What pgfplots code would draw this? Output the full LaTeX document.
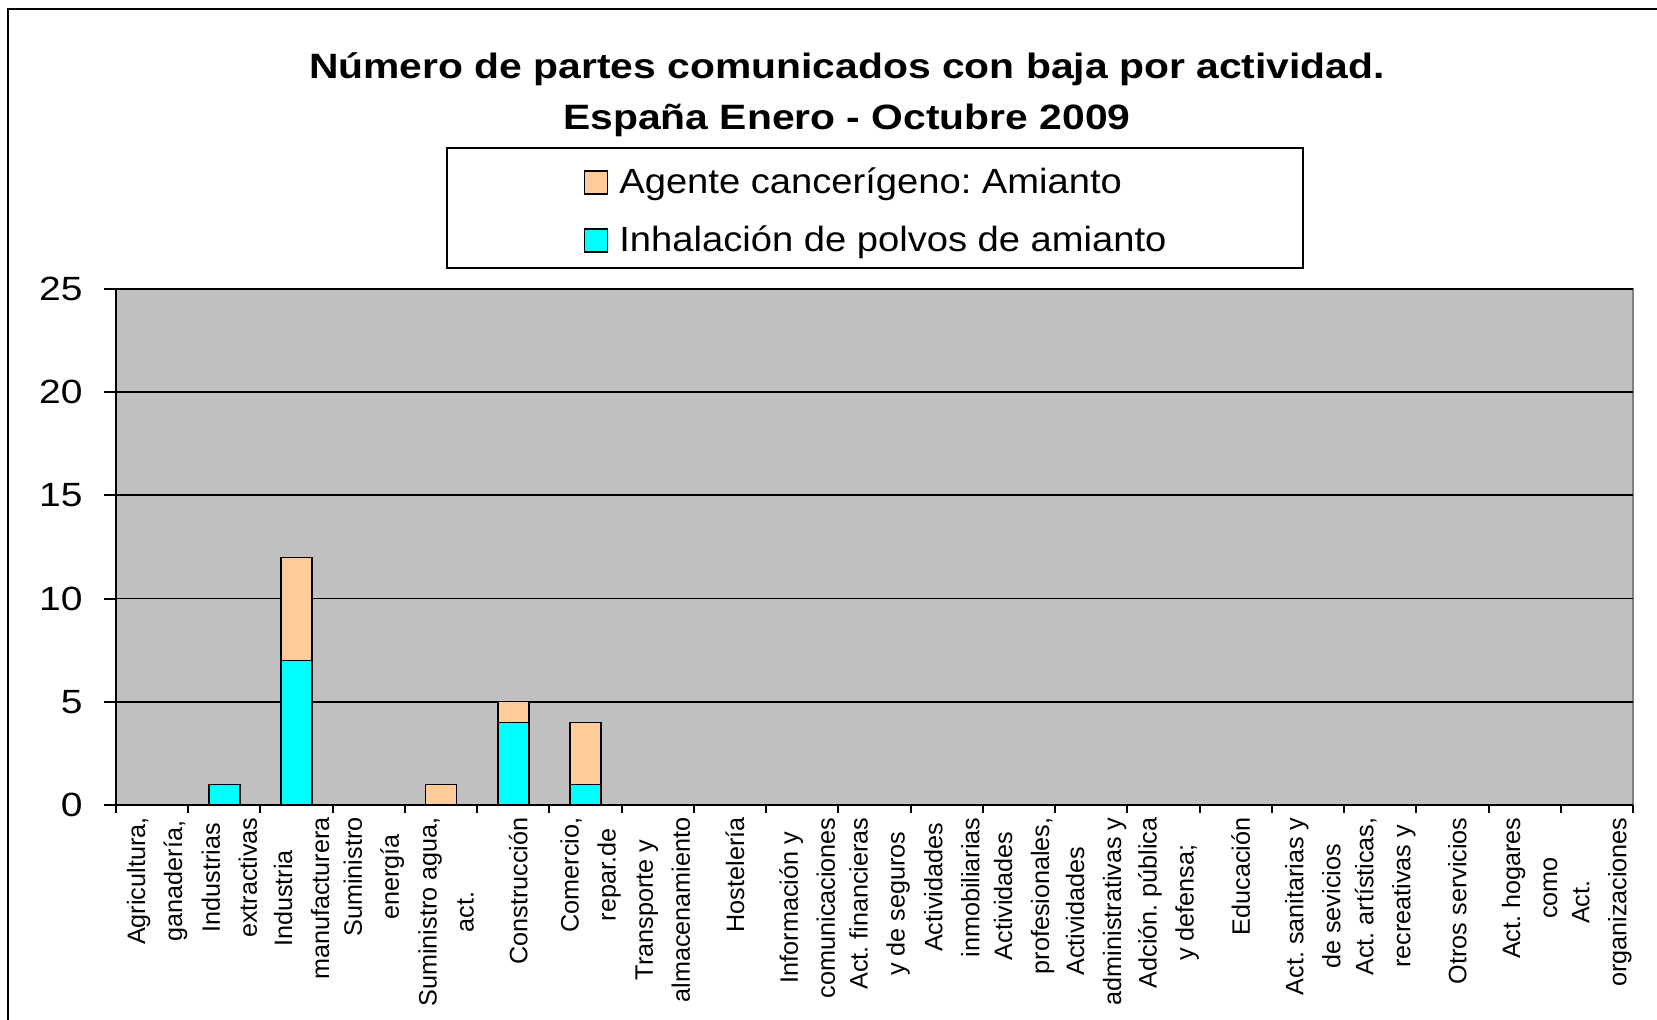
\documentclass[border=0pt]{standalone}
\usepackage{pgfplots}
\pgfplotsset{compat=1.18}
\usepackage{fontspec}
\setmainfont{Liberation Sans}
\newfontfamily\titlefont[FakeStretch=1.16]{Liberation Sans}
\newfontfamily\legfont[FakeStretch=1.09]{Liberation Sans}
\definecolor{peach}{HTML}{FFCC99}
\definecolor{cyanx}{HTML}{00FFFF}
\definecolor{plotbg}{HTML}{C0C0C0}
\definecolor{bordgray}{HTML}{808080}

\begin{document}
\frenchspacing
\begin{tikzpicture}
\useasboundingbox (0,0) rectangle (828.5pt,510pt);
\draw[line width=1.3pt] (4pt,-2pt) -- (4pt,505.5pt) -- (830pt,505.5pt);
\begin{axis}[
  at={(58pt,107.5pt)}, anchor=south west,
  scale only axis, width=758.5pt, height=258pt,
  ybar stacked, bar width=15.5pt,
  xmin=-0.5, xmax=20.5, ymin=0, ymax=25,
  axis x line*=bottom, axis y line*=left,
  axis line style={-, line width=1pt, black},
  axis background/.style={fill=plotbg, draw=bordgray, line width=1pt},
  ymajorgrids, major grid style={black, line width=0.9pt},
  ytick={0,5,...,25},
  tick align=outside, major tick length=6pt, minor tick length=4pt,
  xtick={0,...,20},
  minor xtick={-0.5,0.5,...,20.5},
  major x tick style={draw=none},
  minor x tick style={black, line width=1pt},
  ytick style={black, line width=1pt},
  /pgf/number format/assume math mode=true,
  yticklabel style={font=\titlefont\fontsize{16.8}{18}\selectfont, inner sep=0pt, xshift=-10.5pt},
  xticklabel style={rotate=90, anchor=east, align=center, inner sep=0pt, yshift=-2.5pt,
    font=\frenchspacing\fontsize{12.6}{18.5}\selectfont},
  xticklabels={
    {Agricultura,\\ganadería,},
    {Industrias\\extractivas},
    {Industria\\manufacturera},
    {Suministro\\energía},
    {Suministro agua,\\act.},
    {Construcción},
    {Comercio,\\repar.de},
    {Transporte y\\almacenamiento},
    {Hostelería},
    {Información y\\comunicaciones},
    {Act. financieras\\y de seguros},
    {Actividades\\inmobiliarias},
    {Actividades\\profesionales,},
    {Actividades\\administrativas y},
    {Adción. pública\\y defensa;},
    {Educación},
    {Act. sanitarias y\\de sevicios},
    {Act. artísticas,\\recreativas y},
    {Otros servicios},
    {Act. hogares\\como},
    {Act.\\organizaciones}
  },
  reverse legend,
  legend cell align=left,
  legend style={at={(0.5005,1.1565)}, anchor=center, draw=black, line width=1pt, fill=white,
    inner xsep=68.4pt, inner ysep=7.5pt, row sep=13pt, column sep=5.5pt,
    font=\frenchspacing\legfont\fontsize{17.5}{20}\selectfont,
    nodes={inner sep=0pt, text height=15.1pt, text depth=0.9pt}},
]
\addplot[fill=cyanx, draw=black, line width=0.7pt,
  legend image code/.code={\draw[fill=cyanx, draw=black, line width=0.7pt] (0pt,-7.3pt) rectangle (11.5pt,4.2pt);}]
  coordinates {(0,0) (1,1) (2,7) (3,0) (4,0) (5,4) (6,1) (7,0) (8,0) (9,0) (10,0)
               (11,0) (12,0) (13,0) (14,0) (15,0) (16,0) (17,0) (18,0) (19,0) (20,0)};
\addlegendentry{Inhalación de polvos de amianto}
\addplot[fill=peach, draw=black, line width=0.7pt,
  legend image code/.code={\draw[fill=peach, draw=black, line width=0.7pt] (0pt,-7.3pt) rectangle (11.5pt,4.2pt);}]
  coordinates {(0,0) (1,0) (2,5) (3,0) (4,1) (5,1) (6,3) (7,0) (8,0) (9,0) (10,0)
               (11,0) (12,0) (13,0) (14,0) (15,0) (16,0) (17,0) (18,0) (19,0) (20,0)};
\addlegendentry{Agente cancerígeno: Amianto}
\end{axis}
\node[align=center, font=\titlefont\bfseries\fontsize{17.6}{25.8}\selectfont]
  at (423.5pt,462.6pt) {Número de partes comunicados con baja por actividad.\\España Enero - Octubre 2009};
\end{tikzpicture}
\end{document}
